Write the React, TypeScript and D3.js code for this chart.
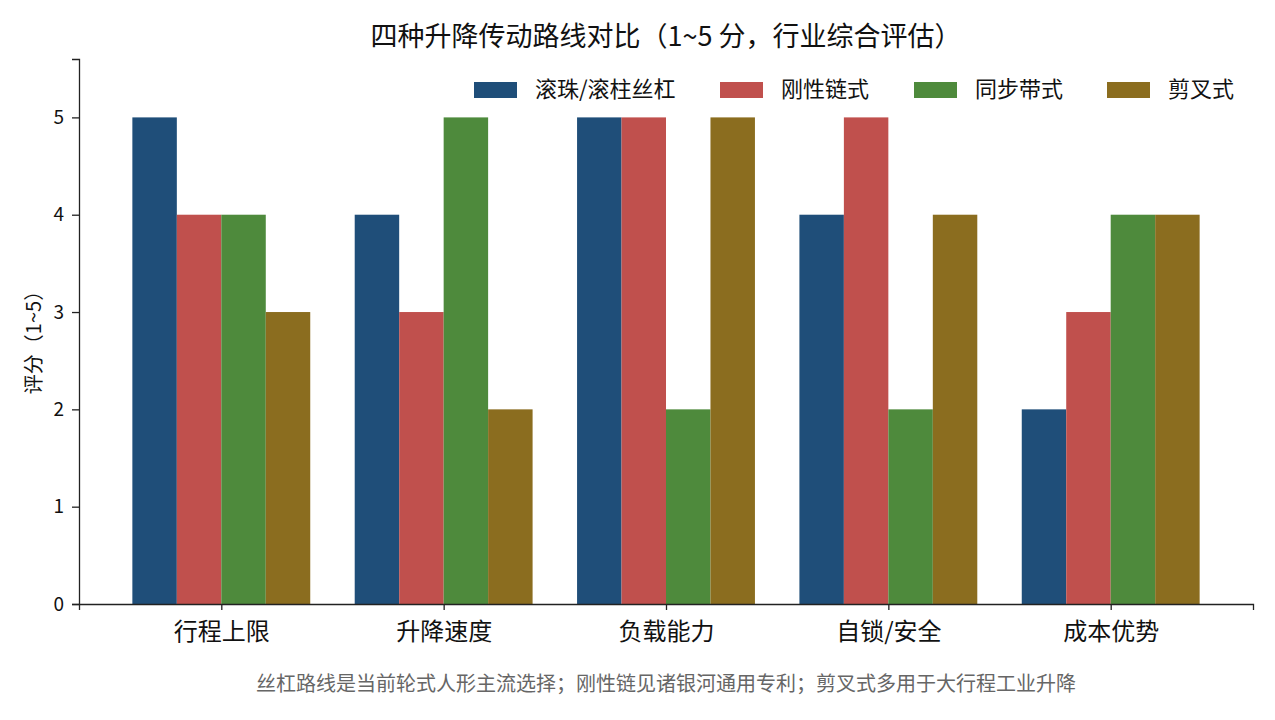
import React, { useEffect, useRef } from 'react';
import * as d3 from 'd3';

const categories = ['行程上限', '升降速度', '负载能力', '自锁/安全', '成本优势'];
const seriesNames = ['滚珠/滚柱丝杠', '刚性链式', '同步带式', '剪叉式'];
const screwScores = [5, 4, 5, 4, 2];
const chainScores = [4, 3, 5, 5, 3];
const beltScores = [4, 5, 2, 2, 4];
const scissorScores = [3, 2, 5, 4, 4];
const yTicks = [0, 1, 2, 3, 4, 5];
const colors = ['#1f4e79', '#c0504d', '#4e8a3c', '#8b6d1f'];

const FONT = '"Noto Sans CJK SC", "Noto Sans", sans-serif';

export default function App() {
  const svgRef = useRef<SVGSVGElement>(null);

  useEffect(() => {
    if (!svgRef.current) return;
    const svg = d3.select(svgRef.current);
    svg.selectAll('*').remove();

    const width = 1275;
    const height = 720;
    const margin = { top: 59, right: 22, bottom: 116, left: 79 };
    const innerW = width - margin.left - margin.right;
    const innerH = height - margin.top - margin.bottom;

    const series = [screwScores, chainScores, beltScores, scissorScores];
    const barW = 0.2;

    // x in "category units", matplotlib-like margins
    const x = d3.scaleLinear().domain([-0.64, categories.length - 1 + 0.64]).range([0, innerW]);
    const y = d3.scaleLinear().domain([0, 5.6]).range([innerH, 0]);

    const g = svg.append('g').attr('transform', `translate(${margin.left},${margin.top})`);

    series.forEach((vals, si) => {
      g.selectAll(`rect.s${si}`)
        .data(vals)
        .enter()
        .append('rect')
        .attr('x', (_d, i) => x(i + (si - 1.5) * barW - barW / 2))
        .attr('width', x(barW) - x(0))
        .attr('y', d => y(d))
        .attr('height', d => y(0) - y(d))
        .attr('fill', colors[si]);
    });

    // y axis
    const yAxis = g.append('g').call(d3.axisLeft(y).tickValues(yTicks).tickSize(7).tickPadding(8).tickFormat(d3.format('d')));
    yAxis.select('.domain').attr('stroke', '#222').attr('stroke-width', 1.3);
    yAxis.selectAll('line').attr('stroke', '#222').attr('stroke-width', 1.3);
    yAxis.selectAll('text').attr('font-size', 19).attr('font-family', FONT).attr('fill', '#111');

    // x axis
    const xAxis = g.append('g')
      .attr('transform', `translate(0,${innerH})`)
      .call(d3.axisBottom(x).tickValues(d3.range(categories.length)).tickSize(6).tickPadding(13)
        .tickFormat((d: any) => categories[d as number]));
    xAxis.select('.domain').attr('stroke', '#222').attr('stroke-width', 1.3);
    xAxis.selectAll('line').attr('stroke', '#222').attr('stroke-width', 1.3);
    xAxis.selectAll('text').attr('font-size', 24).attr('font-family', FONT).attr('fill', '#111');

    // title
    svg.append('text')
      .attr('x', margin.left + innerW / 2)
      .attr('y', 46)
      .attr('text-anchor', 'middle')
      .attr('font-size', 27)
      .attr('font-family', FONT)
      .attr('fill', '#111')
      .text('四种升降传动路线对比（1~5 分，行业综合评估）');

    // y label
    svg.append('text')
      .attr('transform', `translate(41,${margin.top + innerH / 2 + 6}) rotate(-90)`)
      .attr('text-anchor', 'middle')
      .attr('font-size', 20)
      .attr('font-family', FONT)
      .attr('fill', '#111')
      .text('评分（1~5）');

    // legend
    const legendX = [474, 720, 914, 1107];
    seriesNames.forEach((name, i) => {
      svg.append('rect')
        .attr('x', legendX[i]).attr('y', 82).attr('width', 43).attr('height', 16)
        .attr('fill', colors[i]);
      svg.append('text')
        .attr('x', legendX[i] + 61).attr('y', 97)
        .attr('font-size', 22)
        .attr('font-family', FONT)
        .attr('fill', '#111')
        .text(name);
    });

    // footnote
    svg.append('text')
      .attr('x', margin.left + innerW / 2)
      .attr('y', 691)
      .attr('text-anchor', 'middle')
      .attr('font-size', 20)
      .attr('font-family', FONT)
      .attr('fill', '#666')
      .text('丝杠路线是当前轮式人形主流选择；刚性链见诸银河通用专利；剪叉式多用于大行程工业升降');
  }, []);

  return (
    <div style={{ position: 'absolute', left: 0, top: 0 }}>
      <svg ref={svgRef} width={1275} height={720} style={{ display: 'block', background: '#fff' }} />
    </div>
  );
}
